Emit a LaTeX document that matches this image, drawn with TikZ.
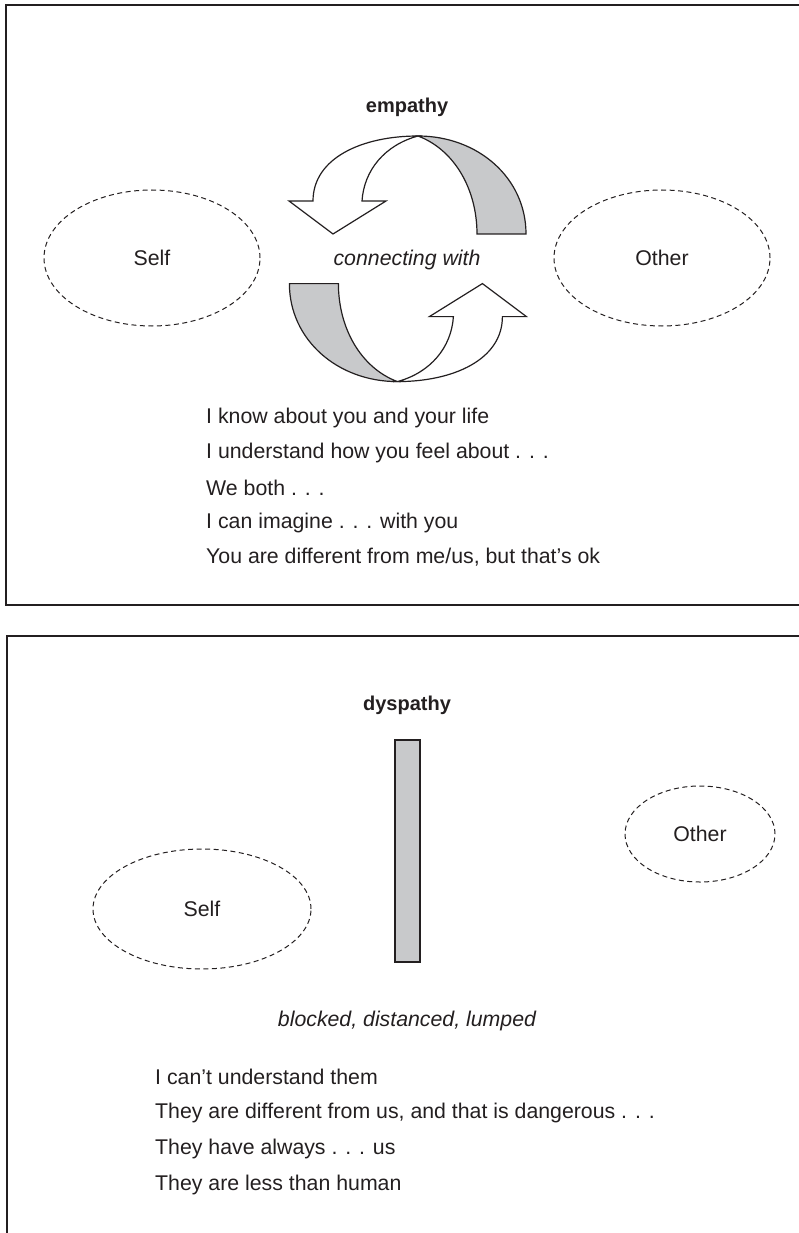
\documentclass[tikz,border=0pt]{standalone}
\usepackage{fontspec}
\setmainfont{Liberation Sans}
\usetikzlibrary{shapes.geometric}
\definecolor{ink}{RGB}{35,31,32}
\definecolor{band}{RGB}{200,201,203}
\newcommand\twistarrow{%
  \filldraw[arrowline,fill=band] (418,136) .. controls (478,136) and (526,178) .. (526,234)
     -- (477,234) .. controls (477,190) and (455,150) .. (418,136) -- cycle;
  \filldraw[arrowline,fill=white] (289,201) -- (313,201) .. controls (313,158) and (362,136) .. (418,136)
     .. controls (385,145) and (364,170) .. (362,201) -- (386,201) -- (333,234) -- cycle;
}
\begin{document}
\begin{tikzpicture}[x=1pt,y=-1pt,
  frame/.style={line width=2.4pt,draw=ink},
  arrowline/.style={line width=1.2pt,draw=ink,line join=miter},
  oval/.style={ellipse,draw=ink,dashed,dash pattern=on 5pt off 3.5pt,line width=1pt,inner sep=0pt,text=ink,font=\fontsize{21.3}{25}\selectfont},
  title/.style={text=ink,font=\bfseries\fontsize{20}{24}\selectfont},
  body/.style={text=ink,anchor=west,inner sep=0pt,font=\fontsize{21.3}{25}\selectfont},
  note/.style={text=ink,font=\itshape\fontsize{21.3}{25}\selectfont}]
\useasboundingbox (0,0) rectangle (798,1233);
% frames
\draw[frame] (810,5) -- (6,5) -- (6,605) -- (810,605);
\draw[frame] (810,636) -- (7,636) -- (7,1245);
% top panel
\node[title] (emp) at (407,107) {empathy};
\node[oval,minimum width=216pt,minimum height=136pt] (self1) at (152,258) {Self};
\node[oval,minimum width=216pt,minimum height=136pt] (other1) at (662,258) {Other};
\twistarrow
\begin{scope}[rotate around={180:(407.7,258.8)}]
\twistarrow
\end{scope}
\node[note] (conn) at (407,260) {connecting with};
\node[body] (l1) at (206,418) {I know about you and your life};
\node[body] (l2) at (206,453) {I understand how you feel about . . .};
\node[body] (l3) at (206,488) {We both . . .};
\node[body] (l4) at (206,523) {I can imagine . . . with you};
\node[body] (l5) at (206,557) {You are different from me/us, but that’s ok};
% bottom panel
\node[title] (dys) at (407,705) {dyspathy};
\filldraw[arrowline,fill=band] (395,740) rectangle (420,962);
\node[oval,minimum width=218pt,minimum height=120pt] (self2) at (202,909) {Self};
\node[oval,minimum width=150pt,minimum height=96pt] (other2) at (700,834) {Other};
\node[note] (blk) at (407,1021) {blocked, distanced, lumped};
\node[body] (m1) at (155,1077) {I can’t understand them};
\node[body] (m2) at (155,1113) {They are different from us, and that is dangerous . . .};
\node[body] (m3) at (155,1149) {They have always . . . us};
\node[body] (m4) at (155,1185) {They are less than human};
\end{tikzpicture}
\end{document}
